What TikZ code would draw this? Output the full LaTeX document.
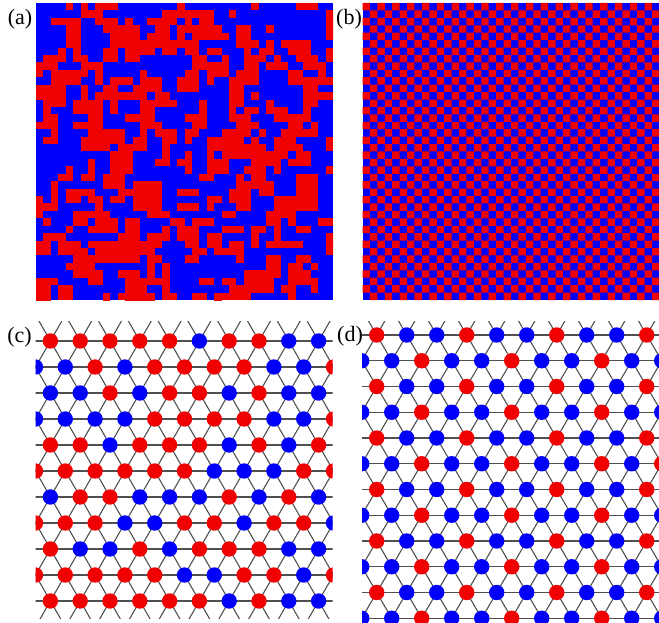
\documentclass[tikz,border=0pt]{standalone}
\usepackage{fontspec}
\setmainfont{Liberation Serif}
\definecolor{spinR}{RGB}{240,0,0}
\definecolor{spinB}{RGB}{0,0,250}
\definecolor{bondgray}{RGB}{80,80,80}

\begin{document}
\begin{tikzpicture}[x=1pt, y=-1pt,
    bond/.style={bondgray, line width=1.1pt},
    lab/.style={font=\fontsize{22}{25}\selectfont, inner sep=0pt}]
    \useasboundingbox (0,0) rectangle (659,623);

    % (a) disordered spins
    \begin{scope}
      \clip (36,3) rectangle (333,300);
      \fill[spinB] (36,3) rectangle (333,300);
      \pgfmathsetseed{4242}
      \foreach \n in {1,...,460} {
        \pgfmathrandominteger{\ci}{0}{39}
        \pgfmathrandominteger{\cj}{0}{39}
        \pgfmathrandominteger{\cw}{1}{2}
        \pgfmathrandominteger{\ch}{1}{2}
        \fill[spinR] ({36+7.425*\ci},{3+7.425*\cj}) rectangle ++({7.425*\cw},{7.425*\ch});
      }
    \end{scope}

    % (b) checkerboard
    \fill[spinB] (362.5,3) rectangle (659.5,300);
    \fill[spinR] \foreach \i in {0,...,39} {
        \foreach \j in {0,...,19} {
          ({362.5+7.425*\i},{3+7.425*(2*\j+mod(\i,2))}) rectangle ++(7.425,7.425)
        }
      };

    % (c) triangular lattice
    \begin{scope}
      \clip (35.5,321.5) rectangle (332.5,618);
      \foreach \r in {-1,...,11} {
        \draw[bond] (30,{341+26*\r}) -- (340,{341+26*\r});
        \foreach \k in {-1,...,11}
          \draw[bond] ({35.5+29.8*\k+14.9*(1-mod(\r+2,2))},{341+26*\r})
            -- ++(14.9,26) ++(-14.9,-26) -- ++(-14.9,26);
      }
      \foreach \row [count=\r from 0] in {
          {R,R,R,R,R,B,R,R,B,B},
          {B,B,R,B,R,R,R,R,B,B,R},
          {B,B,R,B,R,R,B,R,B,B},
          {B,B,B,B,R,R,R,R,B,B,R},
          {R,R,B,R,R,R,B,R,B,R},
          {R,R,R,R,R,R,B,B,B,R,R},
          {B,R,R,B,B,B,R,B,R,B},
          {R,R,R,B,B,R,R,B,R,R,B},
          {R,B,B,R,B,R,R,R,B,B},
          {R,R,R,R,R,B,B,R,R,B,R},
          {R,R,R,R,R,R,B,R,B,B}}
        \foreach \c [count=\k from 0] in \row
          \fill[fill=spin\c] ({35.5+29.8*\k+14.9*(1-mod(\r,2))},{341+26*\r}) circle (7.7);
    \end{scope}

    % (d) triangular lattice, sqrt3 order
    \begin{scope}
      \clip (362,321) rectangle (660,623);
      \foreach \r in {-1,...,12} {
        \draw[bond] (355,{335+25.75*\r}) -- (665,{335+25.75*\r});
        \foreach \k in {-1,...,11}
          \draw[bond] ({361.7+30*\k+15*(1-mod(\r+2,2))},{335+25.75*\r})
            -- ++(15,25.75) ++(-15,-25.75) -- ++(-15,25.75);
      }
      \foreach \row [count=\r from 0] in {
          {R,B,B,R,B,B,R,B,B,R},
          {B,B,R,B,B,R,B,B,R,B,B},
          {R,B,B,R,B,B,R,B,B,R},
          {B,B,R,B,B,R,B,B,R,B,B},
          {R,B,B,R,B,B,R,B,B,R},
          {B,B,R,B,B,R,B,B,R,B,R},
          {R,B,B,R,B,B,R,B,B,R},
          {B,B,R,B,B,R,B,B,R,B,B},
          {R,B,B,R,B,B,R,B,B,R},
          {B,B,R,B,B,R,B,B,R,B,B},
          {R,B,B,R,B,B,R,B,B,R},
          {B,B,R,B,B,R,B,B,R,B,B}}
        \foreach \c [count=\k from 0] in \row
          \fill[fill=spin\c] ({361.7+30*\k+15*(1-mod(\r,2))},{335+25.75*\r}) circle (7.7);
    \end{scope}

    \node[lab] (lab-a) at (20,19) {(a)};
    \node[lab] (lab-b) at (349,19) {(b)};
    \node[lab] (lab-c) at (19.5,337.5) {(c)};
    \node[lab] (lab-d) at (350,336) {(d)};
\end{tikzpicture}
\end{document}
